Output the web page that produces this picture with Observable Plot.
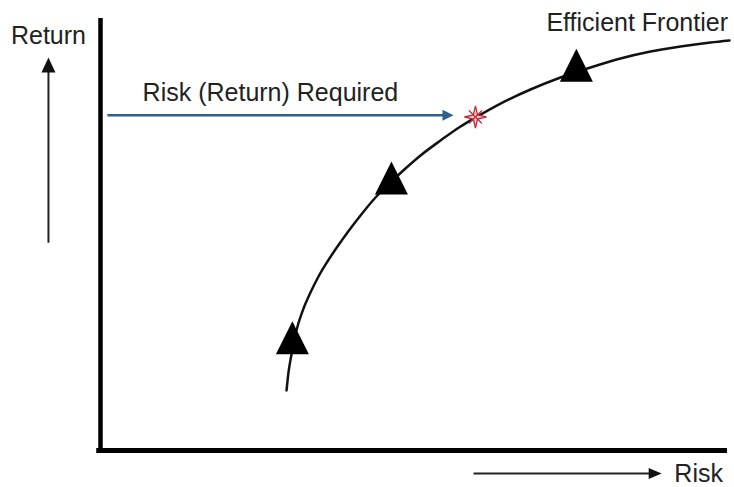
<!DOCTYPE html>
<html>
<head>
<meta charset="utf-8">
<script src="https://cdn.jsdelivr.net/npm/d3@7"></script>
<script src="https://cdn.jsdelivr.net/npm/@observablehq/plot@0.6"></script>
<style>
  html, body { margin: 0; padding: 0; background: #fff; }
  #chart svg { display: block; }
</style>
</head>
<body>
<div id="chart"></div>
<script>
// Efficient frontier curve (risk, return) in abstract units 0–100
const frontierRisk   = [29.67, 29.98, 30.46, 30.94, 31.42, 32.38, 33.49, 34.77, 36.20, 37.80, 39.39, 41.47, 43.86, 46.25, 48.64, 51.04, 54.23, 57.42, 59.81, 63.80, 68.58, 73.37, 78.15, 82.93, 87.72, 92.50, 97.29, 100.32];
const frontierReturn = [13.89, 18.06, 22.22, 25.93, 28.70, 32.87, 36.57, 40.28, 43.75, 47.22, 50.46, 54.40, 58.56, 62.04, 65.28, 68.29, 71.76, 75.00, 77.08, 80.32, 83.56, 86.34, 88.66, 90.74, 92.36, 93.52, 94.44, 94.91];

// Portfolios marked with triangles
const portfolioRisk   = [30.6, 46.4, 75.9];
const portfolioReturn = [24.8, 61.8, 87.9];

// Required return point (star) and arrow pointing at it
const requiredRisk = [59.8];
const requiredReturn = [77.2];
const requiredArrowFrom = [1.1];
const requiredArrowTo = [56.3];
const requiredArrowLevel = [77.6];

// Axis direction arrows
const returnArrowX = [-8.3];
const returnArrowY = [48.1, 91.0];
const riskArrowY = [-5.3];
const riskArrowX = [59.5, 89.5];

// Labels
const labelText = ["Return", "Efficient Frontier", "Risk (Return) Required", "Risk"];
const labelX    = [-8.3, 85.6, 27.1, 95.4];
const labelY    = [94.2, 97.2, 81.0, -7.4];

const frontier = frontierRisk.map((x, i) => ({x, y: frontierReturn[i]}));
const portfolios = portfolioRisk.map((x, i) => ({x, y: portfolioReturn[i]}));
const labels = labelText.map((t, i) => ({t, x: labelX[i], y: labelY[i]}));

// Custom symbols (pixel-sized shapes)
const triangleSymbol = {
  draw(ctx) {
    ctx.moveTo(0, -22);
    ctx.lineTo(16.5, 11);
    ctx.lineTo(-16.5, 11);
    ctx.closePath();
  }
};
function headSymbol(len, halfW) {
  return {
    draw(ctx) {
      ctx.moveTo(0, 0);
      ctx.lineTo(halfW, len);
      ctx.lineTo(-halfW, len);
      ctx.closePath();
    }
  };
}
const starSymbol = {
  draw(ctx) {
    const R = 11, r = 3;
    for (let k = 0; k < 4; k++) {
      const a = k * Math.PI / 2 - Math.PI / 2;
      const b1 = a - Math.PI / 4, b2 = a + Math.PI / 4;
      if (k === 0) ctx.moveTo(r * Math.cos(b1), r * Math.sin(b1));
      ctx.lineTo(R * Math.cos(a), R * Math.sin(a));
      ctx.lineTo(r * Math.cos(b2), r * Math.sin(b2));
    }
    ctx.closePath();
    const d = 6.5;
    ctx.moveTo(-d, -d); ctx.lineTo(d, d);
    ctx.moveTo(-d, d); ctx.lineTo(d, -d);
  }
};

const plot = Plot.plot({
  width: 734,
  height: 487,
  marginLeft: 100,
  marginRight: 7,
  marginTop: 18,
  marginBottom: 37,
  x: {domain: [0, 100], axis: null},
  y: {domain: [0, 100], axis: null},
  style: {background: "#fff", fontFamily: "'Liberation Sans', Arial, sans-serif"},
  marks: [
    // axes (thick lines)
    Plot.ruleX([0], {y1: -0.5, y2: 100, stroke: "#000", strokeWidth: 4.5}),
    Plot.ruleY([0], {x1: -0.6, x2: 100, stroke: "#000", strokeWidth: 5}),

    // frontier curve
    Plot.line(frontier, {x: "x", y: "y", curve: "monotone-x", stroke: "#111", strokeWidth: 2.5}),

    // required-return arrow (blue)
    Plot.link([0], {x1: () => requiredArrowFrom[0], x2: () => requiredArrowTo[0] - 1.2,
      y1: () => requiredArrowLevel[0], y2: () => requiredArrowLevel[0], stroke: "#2f5f8f", strokeWidth: 2.5}),
    Plot.dot([0], {x: () => requiredArrowTo[0], y: () => requiredArrowLevel[0],
      symbol: headSymbol(11, 5.5), rotate: 90, fill: "#2f5f8f", stroke: "none"}),

    // star
    Plot.dot([0], {x: () => requiredRisk[0], y: () => requiredReturn[0], symbol: starSymbol,
      stroke: "#c0303c", strokeWidth: 1.3, fill: "#f3c6cb"}),

    // portfolio triangles
    Plot.dot(portfolios, {x: "x", y: "y", symbol: triangleSymbol, fill: "#000", stroke: "none"}),

    // Return direction arrow
    Plot.link([0], {x1: () => returnArrowX[0], x2: () => returnArrowX[0],
      y1: () => returnArrowY[0], y2: () => returnArrowY[1] - 2.5, stroke: "#222", strokeWidth: 2}),
    Plot.dot([0], {x: () => returnArrowX[0], y: () => returnArrowY[1],
      symbol: headSymbol(15, 7), fill: "#111", stroke: "none"}),

    // Risk direction arrow
    Plot.link([0], {x1: () => riskArrowX[0], x2: () => riskArrowX[1] - 1.5,
      y1: () => riskArrowY[0], y2: () => riskArrowY[0], stroke: "#222", strokeWidth: 2}),
    Plot.dot([0], {x: () => riskArrowX[1], y: () => riskArrowY[0],
      symbol: headSymbol(13, 5.5), rotate: 90, fill: "#111", stroke: "none"}),

    // labels
    Plot.text(labels, {x: "x", y: "y", text: "t", textAnchor: "middle", lineAnchor: "bottom",
      fontSize: 25, fill: "#222"})
  ]
});
document.getElementById("chart").appendChild(plot);
</script>
</body>
</html>
